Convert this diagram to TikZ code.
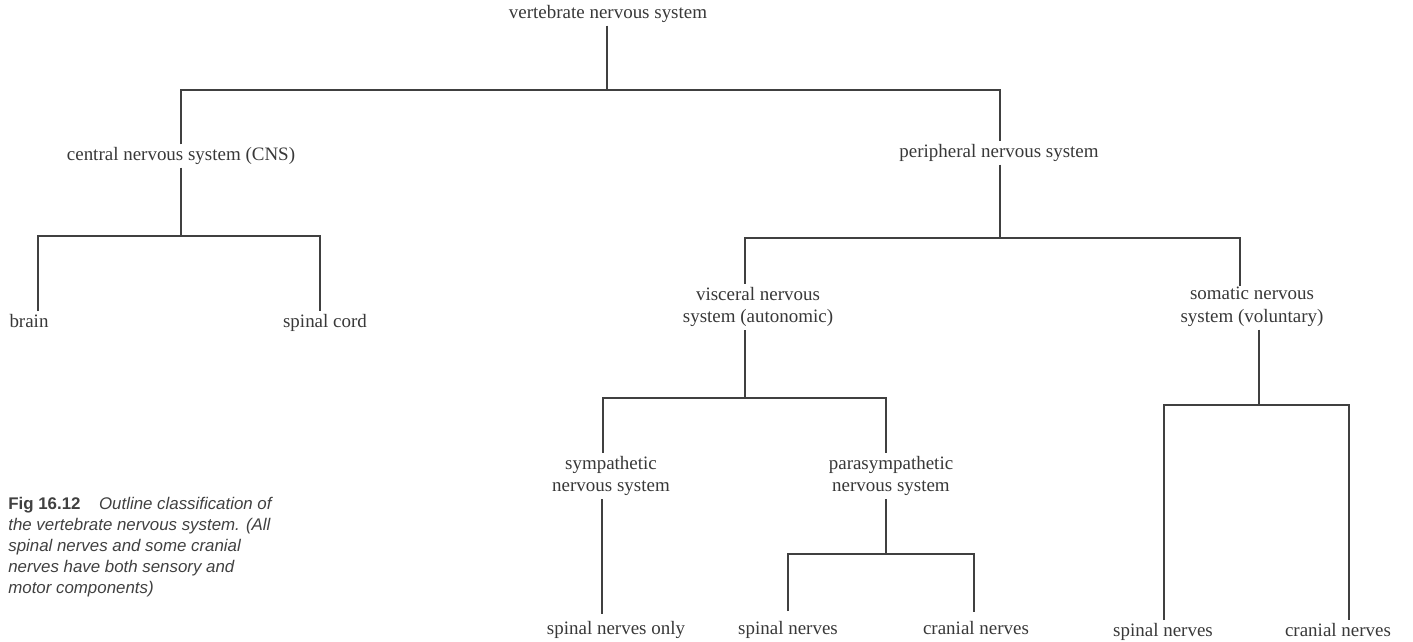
\documentclass[tikz,border=0pt]{standalone}
\usepackage{fontspec}
\setmainfont{Liberation Serif}
\setsansfont{Liberation Sans}
\tikzset{
  lbl/.style={font=\fontsize{10.8}{13}\selectfont, text=black!78, inner sep=1.5pt, align=center},
  leaf/.style={lbl, anchor=base},
  link/.style={draw=black!75, line width=1pt},
}
\begin{document}
\begin{tikzpicture}[x=0.02cm,y=-0.02cm]
\useasboundingbox (0,0) rectangle (1413,642);
% labels
\node[lbl] (vns) at (608,14) {vertebrate nervous system};
\node[lbl] (cns) at (181,156) {central nervous system (CNS)};
\node[lbl] (pns) at (999,153) {peripheral nervous system};
\node[lbl] (vis) at (758,307) {visceral nervous\\system (autonomic)};
\node[lbl] (som) at (1252,307) {somatic nervous\\system (voluntary)};
\node[lbl] (sym) at (611,476) {sympathetic\\nervous system};
\node[lbl] (par) at (891,476) {parasympathetic\\nervous system};
\node[leaf] (brain) at (29,327) {brain};
\node[leaf] (cord) at (325,327) {spinal cord};
\node[leaf] (spo) at (616,634) {spinal nerves only};
\node[leaf] (psp) at (788,634) {spinal nerves};
\node[leaf] (pcr) at (976,634) {cranial nerves};
\node[leaf] (ssp) at (1163,636) {spinal\ nerves};
\node[leaf] (scr) at (1338,636) {cranial nerves};
% bars
\coordinate (b1) at (607,90);
\coordinate (b2) at (181,236);
\coordinate (b3) at (1000,238);
\coordinate (b4) at (745,398);
\coordinate (b5) at (1259,405);
\coordinate (b6) at (886,554);
% branches
\draw[link] (b1 |- vns.south) -- (b1);
\draw[link] (181,0 |- cns.north) |- (b1) -| (b3 |- pns.north);
\draw[link] (b2 |- cns.south) -- (b2);
\draw[link] (38,311) |- (b2) -| (320,311);
\draw[link] (b3 |- pns.south) -- (b3);
\draw[link] (b4 |- vis.north) |- (b3) -| (1240,286);
\draw[link] (b4 |- vis.south) -- (b4);
\draw[link] (603,0 |- sym.north) |- (b4) -| (886,0 |- par.north);
\draw[link] (b5 |- som.south) -- (b5);
\draw[link] (1164,620) |- (b5) -| (1349,620);
\draw[link] (602,0 |- sym.south) -- (602,614);
\draw[link] (b6 |- par.south) -- (b6);
\draw[link] (788,611) |- (b6) -| (974,612);
% caption
\node[anchor=north west, inner sep=0pt, align=left, text=black!75,
      font=\sffamily\fontsize{9.6}{12}\selectfont] (cap) at (8,497)
  {\textbf{Fig 16.12}\hspace{1.1em}\textit{Outline classification of}\\
   \textit{the vertebrate nervous system. (All}\\
   \textit{spinal nerves and some cranial}\\
   \textit{nerves have both sensory and}\\
   \textit{motor components)}};
\end{tikzpicture}
\end{document}
